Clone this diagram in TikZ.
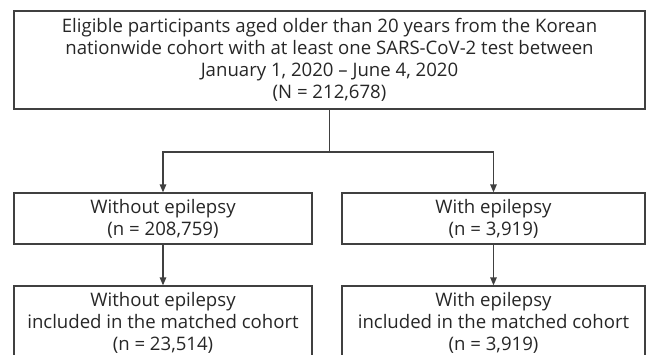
\documentclass[tikz,border=0pt]{standalone}
\usepackage{fontspec}
\setmainfont{Open Sans}
\usetikzlibrary{arrows.meta, positioning}

\begin{document}
\begin{tikzpicture}[x=1pt, y=-1pt, >={Triangle[length=8pt, width=6.5pt]},
                        box/.style={draw=black!75, line width=1.3pt, align=center, inner sep=0pt,
                                    text=black!85, font=\fontsize{18.6}{22}\selectfont}]
                        \clip (0,0) rectangle (647,354);
                        \node[box, minimum width=631pt, minimum height=98pt] (all) at (329.5, 60)
                            {Eligible participants aged older than 20 years from the Korean\\
                             nationwide cohort with at least one SARS-CoV-2 test between\\
                             January 1, 2020 -- June 4, 2020\\
                             (N = 212,678)};
                        \node[box, minimum width=298pt, minimum height=51pt] (noepi) at (163, 218.5)
                            {Without epilepsy\\(n = 208,759)};
                        \node[box, minimum width=303pt, minimum height=51pt] (epi) at (493.5, 218.5)
                            {With epilepsy\\(n = 3,919)};
                        \node[box, minimum width=298pt, minimum height=74pt] (noepim) at (163, 323)
                            {Without epilepsy\\included in the matched cohort\\(n = 23,514)};
                        \node[box, minimum width=303pt, minimum height=74pt] (epim) at (493.5, 323)
                            {With epilepsy\\included in the matched cohort\\(n = 3,919)};
                        \coordinate (split) at (329.5, 152);
                        \draw[black!75, line width=1.3pt]
                        (all) -- (split)
                        (noepi) edge[->] (noepim)
                        (epi) edge[->] (epim);
                        \draw[black!75, line width=1.3pt, ->] (split) -| (noepi);
                        \draw[black!75, line width=1.3pt, ->] (split) -| (epi);
                    \end{tikzpicture}
\end{document}
